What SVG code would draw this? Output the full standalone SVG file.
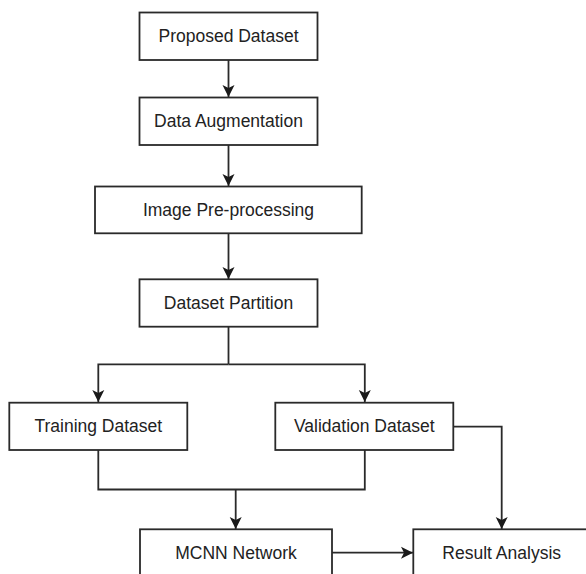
<svg xmlns="http://www.w3.org/2000/svg" width="586" height="574" viewBox="0 0 586 574">
<style>
.box{fill:#fff;stroke:#2a2a2a;stroke-width:1.8}
.lbl{font-family:"Liberation Sans",Arial,sans-serif;font-size:17.5px;fill:#222;text-anchor:middle;dominant-baseline:central}
.c{fill:none;stroke:#2a2a2a;stroke-width:1.8}
</style>
<defs>
<marker id="ah" markerUnits="userSpaceOnUse" markerWidth="14" markerHeight="14" viewBox="0 0 14 14" refX="12" refY="7" orient="auto">
<path d="M0,1 L12,7 L0,13 L3,7 Z" fill="#1a1a1a"/>
</marker>
</defs>
<rect width="586" height="574" fill="#fff"/>
<g id="connectors">
<path class="c" d="M228.5,60 V97" marker-end="url(#ah)"/>
<path class="c" d="M228.5,145 V186" marker-end="url(#ah)"/>
<path class="c" d="M228.5,233.3 V279" marker-end="url(#ah)"/>
<path class="c" d="M228.5,326.7 V364.3"/>
<path class="c" d="M228.5,364.3 H98.3 V402" marker-end="url(#ah)"/>
<path class="c" d="M228.5,364.3 H364.8 V402" marker-end="url(#ah)"/>
<path class="c" d="M98.3,450 V489.5 H364.8 V450"/>
<path class="c" d="M235.7,489.5 V529" marker-end="url(#ah)"/>
<path class="c" d="M453.3,426.7 H501.7 V529" marker-end="url(#ah)"/>
<path class="c" d="M332,552.7 H413" marker-end="url(#ah)"/>
</g>
<g id="n1"><rect class="box" x="139.5" y="12.5" width="178" height="47.5"/><text class="lbl" x="228.5" y="36.3">Proposed Dataset</text></g>
<g id="n2"><rect class="box" x="139.5" y="97.5" width="178" height="47.5"/><text class="lbl" x="228.5" y="121.3">Data Augmentation</text></g>
<g id="n3"><rect class="box" x="95" y="186.5" width="266.7" height="46.8"/><text class="lbl" x="228.5" y="210">Image Pre-processing</text></g>
<g id="n4"><rect class="box" x="139.5" y="279.3" width="178" height="47.4"/><text class="lbl" x="228.5" y="303">Dataset Partition</text></g>
<g id="n5"><rect class="box" x="9.3" y="402.7" width="178" height="47.3"/><text class="lbl" x="98.3" y="426.4">Training Dataset</text></g>
<g id="n6"><rect class="box" x="275.3" y="402.7" width="178" height="47.3"/><text class="lbl" x="364.3" y="426.4">Validation Dataset</text></g>
<g id="n7"><rect class="box" x="140" y="529.3" width="192" height="47.5"/><text class="lbl" x="236" y="553">MCNN Network</text></g>
<g id="n8"><rect class="box" x="413.3" y="529.3" width="177" height="47.5"/><text class="lbl" x="501.7" y="553">Result Analysis</text></g>
</svg>
